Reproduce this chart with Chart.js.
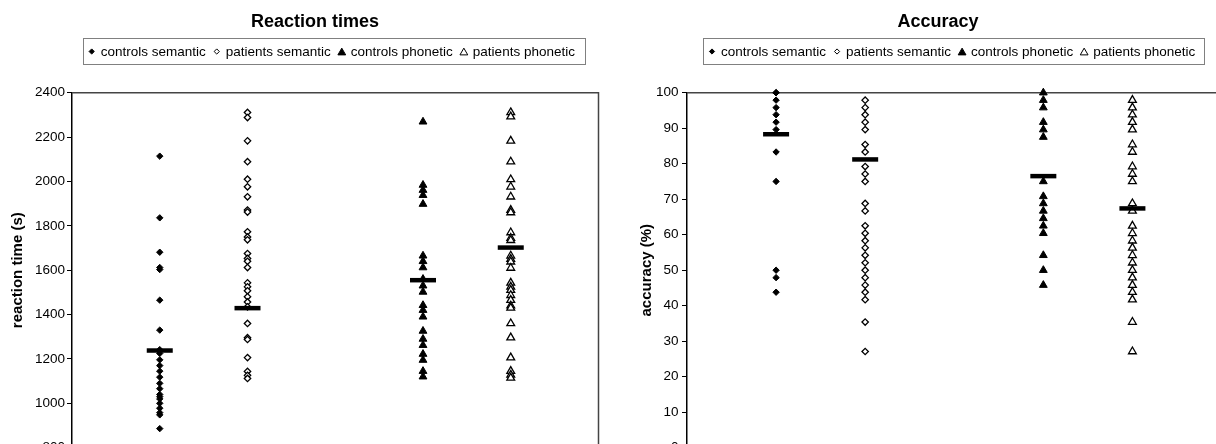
<!DOCTYPE html>
<html>
<head>
<meta charset="utf-8">
<title>Reaction times and accuracy</title>
<script src="https://cdn.jsdelivr.net/npm/chart.js@4.4.1/dist/chart.umd.min.js"></script>
<style>
  html, body { margin: 0; padding: 0; background: #fff; overflow: hidden; }
  #wrap { position: relative; width: 1216px; height: 444px; overflow: hidden; }
  canvas { position: absolute; top: 0; }
  #rtChart { left: 0; }
  #accChart { left: 610px; }
</style>
</head>
<body>
<div id="wrap">
  <canvas id="rtChart" width="616" height="480"></canvas>
  <canvas id="accChart" width="629" height="480"></canvas>
</div>
<script>
// groups and their x slot on the (hidden) horizontal axis
const groups = ['controls semantic', 'patients semantic', 'controls phonetic', 'patients phonetic'];
const groupX = [1, 2, 4, 5];

// reaction times (s)
const rtControlsSemantic = [2114, 1836, 1681, 1612, 1603, 1465, 1330, 1242, 1225, 1196, 1170, 1145, 1118, 1090, 1066, 1040, 1030, 1020, 1000, 978, 958, 948, 886];
const rtPatientsSemantic = [2311, 2288, 2183, 2089, 2010, 1976, 1931, 1871, 1862, 1773, 1750, 1737, 1675, 1653, 1640, 1612, 1543, 1525, 1507, 1480, 1457, 1435, 1360, 1296, 1288, 1206, 1144, 1126, 1112];
const rtControlsPhonetic = [2269, 1984, 1961, 1938, 1898, 1665, 1640, 1612, 1560, 1530, 1502, 1442, 1420, 1390, 1326, 1290, 1262, 1222, 1195, 1145, 1120];
const rtPatientsPhonetic = [2311, 2292, 2183, 2089, 2009, 1976, 1931, 1871, 1860, 1770, 1745, 1735, 1665, 1650, 1638, 1610, 1543, 1525, 1510, 1487, 1465, 1440, 1430, 1360, 1296, 1206, 1145, 1128, 1115];
const rtMeans = [1238, 1429, 1555, 1702];
const rtTicks = [800, 2400, 200]; // min, max, step

// accuracy (%)
const accControlsSemantic = [100, 100, 97.9, 95.8, 93.8, 91.7, 89.6, 83.3, 75, 50, 47.9, 43.8];
const accPatientsSemantic = [97.9, 95.8, 93.8, 91.7, 89.6, 85.4, 83.3, 79.2, 77.1, 75, 68.8, 66.7, 62.5, 60.4, 58.3, 56.3, 54.2, 52.1, 50, 47.9, 45.8, 43.8, 41.7, 35.4, 27.1];
const accControlsPhonetic = [100, 97.9, 95.8, 91.7, 89.6, 87.5, 75, 70.8, 68.8, 66.7, 64.6, 62.5, 60.4, 54.2, 50, 45.8];
const accPatientsPhonetic = [97.9, 95.8, 93.8, 91.7, 89.6, 85.4, 83.3, 79.2, 77.1, 75, 68.8, 66.7, 62.5, 60.4, 58.3, 56.3, 54.2, 52.1, 50, 47.9, 45.8, 43.8, 41.7, 35.4, 27.1];
const accMeans = [88.3, 81.2, 76.5, 67.4];
const accTicks = [0, 100, 10];

// marker look per group
const markerStyle = ['rectRot', 'rectRot', 'triangle', 'triangle'];
const markerFill = ['#000', '#fff', '#000', '#fff'];
const markerSize = [3.2, 3.2, 4.5, 4.5];
const legendSize = [2.6, 2.6, 4.5, 4.5];

const FONT = '"Liberation Sans", Arial, Helvetica, sans-serif';
Chart.defaults.font.family = FONT;
Chart.defaults.color = '#000';

// title + boxed legend, drawn at fixed spots like the original figure
const headerPlugin = {
    id: 'header',
    afterDraw(chart, args, opts) {
        const ctx = chart.ctx;
        ctx.save();
        ctx.fillStyle = '#000';
        ctx.font = 'bold 18px ' + FONT;
        ctx.textAlign = 'center';
        ctx.textBaseline = 'alphabetic';
        ctx.fillText(opts.title, opts.titleX, 26.5);

        ctx.strokeStyle = '#808080';
        ctx.lineWidth = 1;
        ctx.strokeRect(Math.round(opts.boxX) + 0.5, 38.5, opts.boxW, 26);

        ctx.font = '13.5px ' + FONT;
        ctx.textAlign = 'left';
        let x = opts.boxX + 9;
        chart.data.datasets.forEach((ds, i) => {
            if (ds.isMean) return;
            const r = legendSize[i];
            ctx.fillStyle = ds.pointBackgroundColor;
            ctx.strokeStyle = ds.pointBorderColor;
            ctx.lineWidth = 1;
            const dy = ds.pointStyle === 'triangle' ? r / 4 : 0;
            Chart.helpers.drawPoint(ctx, { pointStyle: ds.pointStyle, radius: r, rotation: 0, borderWidth: 1 }, x, 51.5 + dy);
            ctx.fillStyle = '#000';
            ctx.fillText(ds.label, x + 9, 56);
            x += 9 + ctx.measureText(ds.label).width + 11;
        });
        ctx.restore();
    }
};

// grey frame on top and right of the plot area
const framePlugin = {
    id: 'frame',
    beforeDatasetsDraw(chart) {
        const { ctx, chartArea: a } = chart;
        ctx.save();
        ctx.strokeStyle = '#444';
        ctx.lineWidth = 1.5;
        ctx.beginPath();
        ctx.moveTo(a.left, a.top);
        ctx.lineTo(a.right, a.top);
        ctx.lineTo(a.right, a.bottom);
        ctx.stroke();
        ctx.restore();
    }
};

function buildChart(id, series, means, ticks, cfg) {
    const datasets = series.map((values, i) => ({
        label: groups[i],
        data: values.map(v => ({ x: groupX[i], y: v })),
        pointStyle: markerStyle[i],
        pointRadius: markerSize[i],
        pointBackgroundColor: markerFill[i],
        pointBorderColor: '#000',
        pointBorderWidth: markerFill[i] === '#fff' ? 1.3 : 1,
        clip: false
    }));
    datasets.push({
        label: 'mean',
        isMean: true,
        data: means.map((v, i) => ({ x: groupX[i], y: v })),
        pointStyle: 'line',
        pointRadius: 13,
        pointBorderColor: '#000',
        pointBorderWidth: 4.5,
        order: -1,
        clip: false
    });

    return new Chart(document.getElementById(id), {
        type: 'scatter',
        data: { datasets },
        plugins: [framePlugin, headerPlugin],
        options: {
            responsive: false,
            animation: false,
            events: [],
            layout: { padding: { top: 92.7, bottom: 32.3, left: 0, right: 0 } },
            plugins: {
                legend: { display: false },
                tooltip: { enabled: false },
                header: cfg.header
            },
            scales: {
                x: { type: 'linear', min: 0, max: 6, display: false },
                y: {
                    min: ticks[0],
                    max: ticks[1],
                    afterFit(scale) { scale.width = cfg.axisWidth; },
                    ticks: {
                        stepSize: ticks[2],
                        font: { size: 13.5 },
                        color: '#000',
                        padding: cfg.tickPad,
                        format: { useGrouping: false }
                    },
                    grid: { drawOnChartArea: false, drawTicks: true, tickLength: 5, color: '#000', lineWidth: 1 },
                    border: { display: true, color: '#000', width: 1.5 },
                    title: {
                        display: true,
                        text: cfg.axisTitle,
                        font: { size: 15, weight: 'bold' },
                        color: '#000',
                        padding: { top: cfg.titlePad, bottom: 0 }
                    }
                }
            }
        }
    });
}

buildChart('rtChart',
    [rtControlsSemantic, rtPatientsSemantic, rtControlsPhonetic, rtPatientsPhonetic],
    rtMeans, rtTicks,
    {
        axisWidth: 72, tickPad: 2, titlePad: 9,
        axisTitle: 'reaction time (s)',
        header: { title: 'Reaction times', titleX: 315, boxX: 82.7, boxW: 502 }
    });

buildChart('accChart',
    [accControlsSemantic, accPatientsSemantic, accControlsPhonetic, accPatientsPhonetic],
    accMeans, accTicks,
    {
        axisWidth: 77, tickPad: 3.5, titlePad: 27.7,
        axisTitle: 'accuracy (%)',
        header: { title: 'Accuracy', titleX: 328, boxX: 93, boxW: 501 }
    });
</script>
</body>
</html>
